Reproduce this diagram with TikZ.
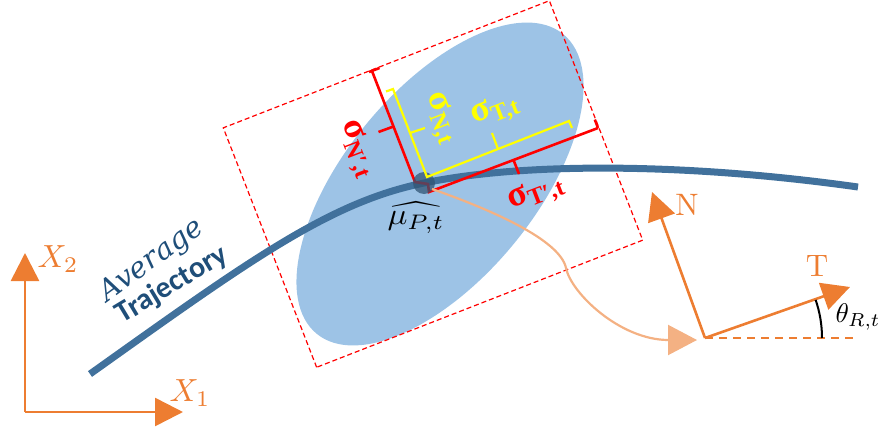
\documentclass[tikz,border=0pt]{standalone}
\usepackage{amsmath}
\usepackage{fontspec}
\newfontfamily\sigfont{Liberation Serif}
\newfontfamily\calfont{Carlito}
\newfontfamily\avgfont{DejaVu Serif}
\usetikzlibrary{arrows.meta}
\definecolor{traj}{HTML}{41719C}
\definecolor{ell}{HTML}{9DC3E6}
\definecolor{orng}{HTML}{ED7D31}
\definecolor{lorng}{HTML}{F4B183}
\definecolor{navy}{HTML}{1F4E79}
\definecolor{yel}{HTML}{FFFF00}
\definecolor{rd}{HTML}{FF0000}
\newcommand\sgsub[1]{\raisebox{-0.35ex}{\fontsize{24}{24}\selectfont #1}}
\tikzset{
  lab/.style={inner sep=0pt, outer sep=0pt},
  sig/.style={lab, font=\sigfont\bfseries\fontsize{36}{36}\selectfont},
  redline/.style={rd, line width=2.6pt, line cap=butt, line join=miter},
  yelline/.style={yel, line width=2.2pt, line cap=butt, line join=miter},
  orarrow/.style={orng, line width=2.6pt, -{Triangle[length=28pt,width=28pt]}},
}
\begin{document}
\begin{tikzpicture}[x=1pt,y=1pt]
\useasboundingbox (0,0) rectangle (882,-433);
% ellipse
\fill[ell, rotate around={50.5:(440,-184)}] (440,-184) ellipse [x radius=194, y radius=95];
% dashed rectangle
\draw[rd, line width=1.2pt, dash pattern=on 5pt off 3pt, rotate around={21.3:(433,-184)}]
  (258,-312.5) rectangle (608,-55.5);
% trajectory
\draw[traj, line width=7pt] (90,-374) .. controls (250,-260) and (330,-202) .. (424,-183)
  .. controls (520,-163) and (680,-162) .. (858,-187);
% red brackets
\draw[redline] (372,-71) -- (415,-182) -- (428,-184) -- (429,-192) -- (598,-128);
\draw[redline] (369,-72) -- (379.5,-68);
\draw[redline] (598,-128) -- (594.8,-119.6);
\draw[redline] (393.5,-126.5) -- (378.5,-132);
\draw[redline] (513.5,-160) -- (519,-174);
% blob
\coordinate (mu) at (424,-183);
\fill[traj!75!black, opacity=0.75] (mu) circle (11);
% yellow brackets
\draw[yelline] (386,-91.5) -- (393,-89) -- (427,-177) -- (569,-121) -- (572,-128);
\draw[yelline] (410,-133) -- (425,-128);
\draw[yelline] (498,-149) -- (492,-133);
% light orange curve
\coordinate (cstart) at (432,-189);
\coordinate (cend) at (697,-340);
\draw[lorng, line width=2.2pt, -{Triangle[length=29pt,width=30pt]}]
  (cstart) .. controls (492,-210) and (560,-240) .. (566,-268)
  .. controls (571,-293) and (620,-340) .. (cend);
% global axes
\coordinate (o1) at (25,-412);
\coordinate (x1tip) at (183,-412);
\coordinate (x2tip) at (25,-253);
\draw[orarrow] (o1) -- (x1tip);
\draw[orarrow] (o1) -- (x2tip);
% local frame
\coordinate (O) at (705,-338);
\coordinate (Ntip) at (652,-192);
\coordinate (Ttip) at (850,-287);
\coordinate (Hend) at (857,-338);
\draw[orng, line width=2.2pt, dash pattern=on 8pt off 6pt] (O) -- (Hend);
\draw[orarrow] (O) -- (Ntip);
\draw[orarrow] (O) -- (Ttip);
\draw[black, line width=2pt] ([shift={(0:117)}]O) arc[start angle=0, end angle=19, radius=117];
% labels
\node[lab, text=orng] (lx2) at (58,-259) {\scalebox{3.2}{$X_2$}};
\node[lab, text=orng] (lx1) at (190,-393) {\scalebox{3.2}{$X_1$}};
\node[lab, text=orng] (lN) at (687,-205) {\scalebox{3.1}{N}};
\node[lab, text=orng] (lT) at (817,-266) {\scalebox{3.1}{T}};
\node[lab] (lth) at (858,-317) {\scalebox{2.7}{$\theta_{R,t}$}};
\node[lab] (lmu) at (416,-218) {\scalebox{3.3}[3.0]{$\widehat{\mu_{P,t}}$}};
\node[sig, text=rd, rotate=-69] (sNp) at (357,-149) {σ\sgsub{N′,t}};
\node[sig, text=yel, rotate=-69] (sN) at (441,-118) {σ\sgsub{N,t}};
\node[sig, text=yel, rotate=21] (sT) at (495,-111) {σ\sgsub{T,t}};
\node[sig, text=rd, rotate=21] (sTp) at (536,-194) {σ\sgsub{T′,t}};
\node[lab, text=navy, rotate=36, font=\avgfont\itshape\fontsize{29}{29}\selectfont] (avg) at (152,-261) {Average};
\node[lab, text=navy, rotate=31, font=\calfont\bfseries\fontsize{30}{30}\selectfont] (trj) at (172,-285) {Trajectory};
\end{tikzpicture}
\end{document}
